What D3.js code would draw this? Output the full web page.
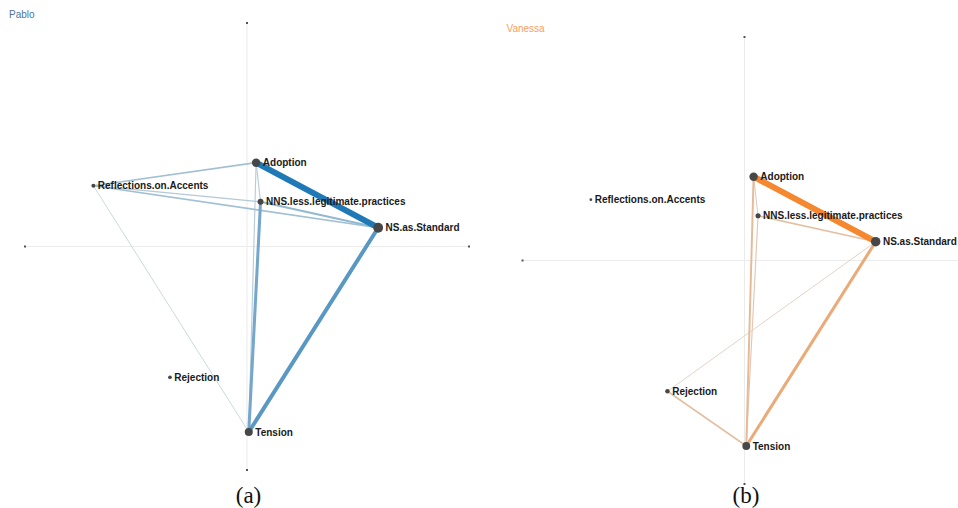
<!DOCTYPE html>
<html>
<head>
<meta charset="utf-8">
<script src="https://cdn.jsdelivr.net/npm/d3@7"></script>
<style>
  html, body { margin: 0; padding: 0; background: #fff; }
  svg { display: block; }
</style>
</head>
<body>
<svg id="chart" width="958" height="508"></svg>
<script>
// Code names and their positions in the shared projected space
const codes = ["Adoption", "Reflections.on.Accents", "NNS.less.legitimate.practices", "NS.as.Standard", "Rejection", "Tension"];
const codeX = [0.041, -0.692, 0.061, 0.591, -0.347, 0.008];
const codeY = [0.375, 0.272, 0.200, 0.084, -0.585, -0.830];

// Relative node weights for each speaker
const pabloNodeSize   = [0.86, 0.40, 0.60, 1.00, 0.38, 0.82];
const vanessaNodeSize = [0.86, 0.28, 0.52, 0.97, 0.46, 0.80];

// Connection strengths [code A, code B, weight]
const pabloEdges = [
  ["Adoption", "NS.as.Standard", 1.00],
  ["NS.as.Standard", "Tension", 0.62],
  ["NNS.less.legitimate.practices", "Tension", 0.45],
  ["NNS.less.legitimate.practices", "NS.as.Standard", 0.28],
  ["Reflections.on.Accents", "Adoption", 0.20],
  ["Reflections.on.Accents", "NS.as.Standard", 0.20],
  ["Reflections.on.Accents", "NNS.less.legitimate.practices", 0.12],
  ["Adoption", "NNS.less.legitimate.practices", 0.10],
  ["Adoption", "Tension", 0.10],
  ["Reflections.on.Accents", "Tension", 0.05]
];
const vanessaEdges = [
  ["Adoption", "NS.as.Standard", 1.00],
  ["NS.as.Standard", "Tension", 0.45],
  ["Adoption", "Tension", 0.25],
  ["NNS.less.legitimate.practices", "NS.as.Standard", 0.18],
  ["Rejection", "Tension", 0.18],
  ["NNS.less.legitimate.practices", "Tension", 0.10],
  ["Adoption", "NNS.less.legitimate.practices", 0.08],
  ["NS.as.Standard", "Rejection", 0.05]
];

const panels = [
  { name: "Pablo",   caption: "(a)", cx: 247,   cy: 246.5, sizes: pabloNodeSize,   edges: pabloEdges,
    titleColor: "#4d7499", light: "#d4dbe0", full: "#1f79b6" },
  { name: "Vanessa", caption: "(b)", cx: 744.5, cy: 260.5, sizes: vanessaNodeSize, edges: vanessaEdges,
    titleColor: "#f4a163", light: "#ded3cb", full: "#f5872e" }
];

const svg = d3.select("#chart");
const halfW = 222, halfH = 223.5;
const rScale = d3.scaleLinear().domain([0, 1]).range([0, 4.9]);
const wScale = d3.scaleLinear().domain([0, 1]).range([0.6, 6]);

panels.forEach(p => {
  const x = d3.scaleLinear().domain([-1, 1]).range([p.cx - halfW, p.cx + halfW]);
  const y = d3.scaleLinear().domain([-1, 1]).range([p.cy + halfH, p.cy - halfH]);
  const colour = w => d3.interpolateRgb(p.light, p.full)(Math.pow(w, 0.8));
  const g = svg.append("g");

  // axes through the origin
  g.append("line").attr("x1", x(-1)).attr("x2", x(1)).attr("y1", y(0)).attr("y2", y(0))
    .attr("stroke", "#ebebeb").attr("stroke-width", 1);
  g.append("line").attr("x1", x(0)).attr("x2", x(0)).attr("y1", y(-1)).attr("y2", y(1))
    .attr("stroke", "#ebebeb").attr("stroke-width", 1);
  const ends = [[-1, 0], [1, 0], [0, -1], [0, 1]];
  g.selectAll("rect.tick").data(ends).join("rect").attr("class", "tick")
    .attr("x", d => x(d[0]) - 1).attr("y", d => y(d[1]) - 1)
    .attr("width", 2).attr("height", 2).attr("fill", "#555");

  // title
  g.append("text").attr("x", p.cx - 238).attr("y", p.cy - 228.5)
    .attr("font-family", "Liberation Sans, Arial, sans-serif").attr("font-size", 10)
    .attr("fill", p.titleColor).text(p.name);

  const pos = name => codes.indexOf(name);

  // connections, weakest first
  const edges = p.edges.slice().sort((a, b) => a[2] - b[2]);
  g.selectAll("line.edge").data(edges).join("line").attr("class", "edge")
    .attr("x1", d => x(codeX[pos(d[0])])).attr("y1", d => y(codeY[pos(d[0])]))
    .attr("x2", d => x(codeX[pos(d[1])])).attr("y2", d => y(codeY[pos(d[1])]))
    .attr("stroke", d => colour(d[2]))
    .attr("stroke-width", d => wScale(d[2]))
    .attr("stroke-linecap", "round");

  // nodes
  const nodes = codes.map((c, i) => ({ c, x: codeX[i], y: codeY[i], r: rScale(p.sizes[i]) }));
  g.selectAll("circle.node").data(nodes).join("circle").attr("class", "node")
    .attr("cx", d => x(d.x)).attr("cy", d => y(d.y)).attr("r", d => d.r)
    .attr("fill", "#474747");
  g.selectAll("text.label").data(nodes).join("text").attr("class", "label")
    .attr("x", d => x(d.x) + d.r + 2.5).attr("y", d => y(d.y)).attr("dy", "0.35em")
    .attr("font-family", "Liberation Sans, Arial, sans-serif").attr("font-weight", "bold")
    .attr("font-size", 10).attr("fill", "#1a1a1a").text(d => d.c);

  // caption below
  svg.append("text").attr("x", p.cx + 1.5).attr("y", 503).attr("text-anchor", "middle")
    .attr("font-family", "Liberation Serif, Times New Roman, serif").attr("font-size", 23)
    .attr("fill", "#111").text(p.caption);
});
</script>
</body>
</html>
